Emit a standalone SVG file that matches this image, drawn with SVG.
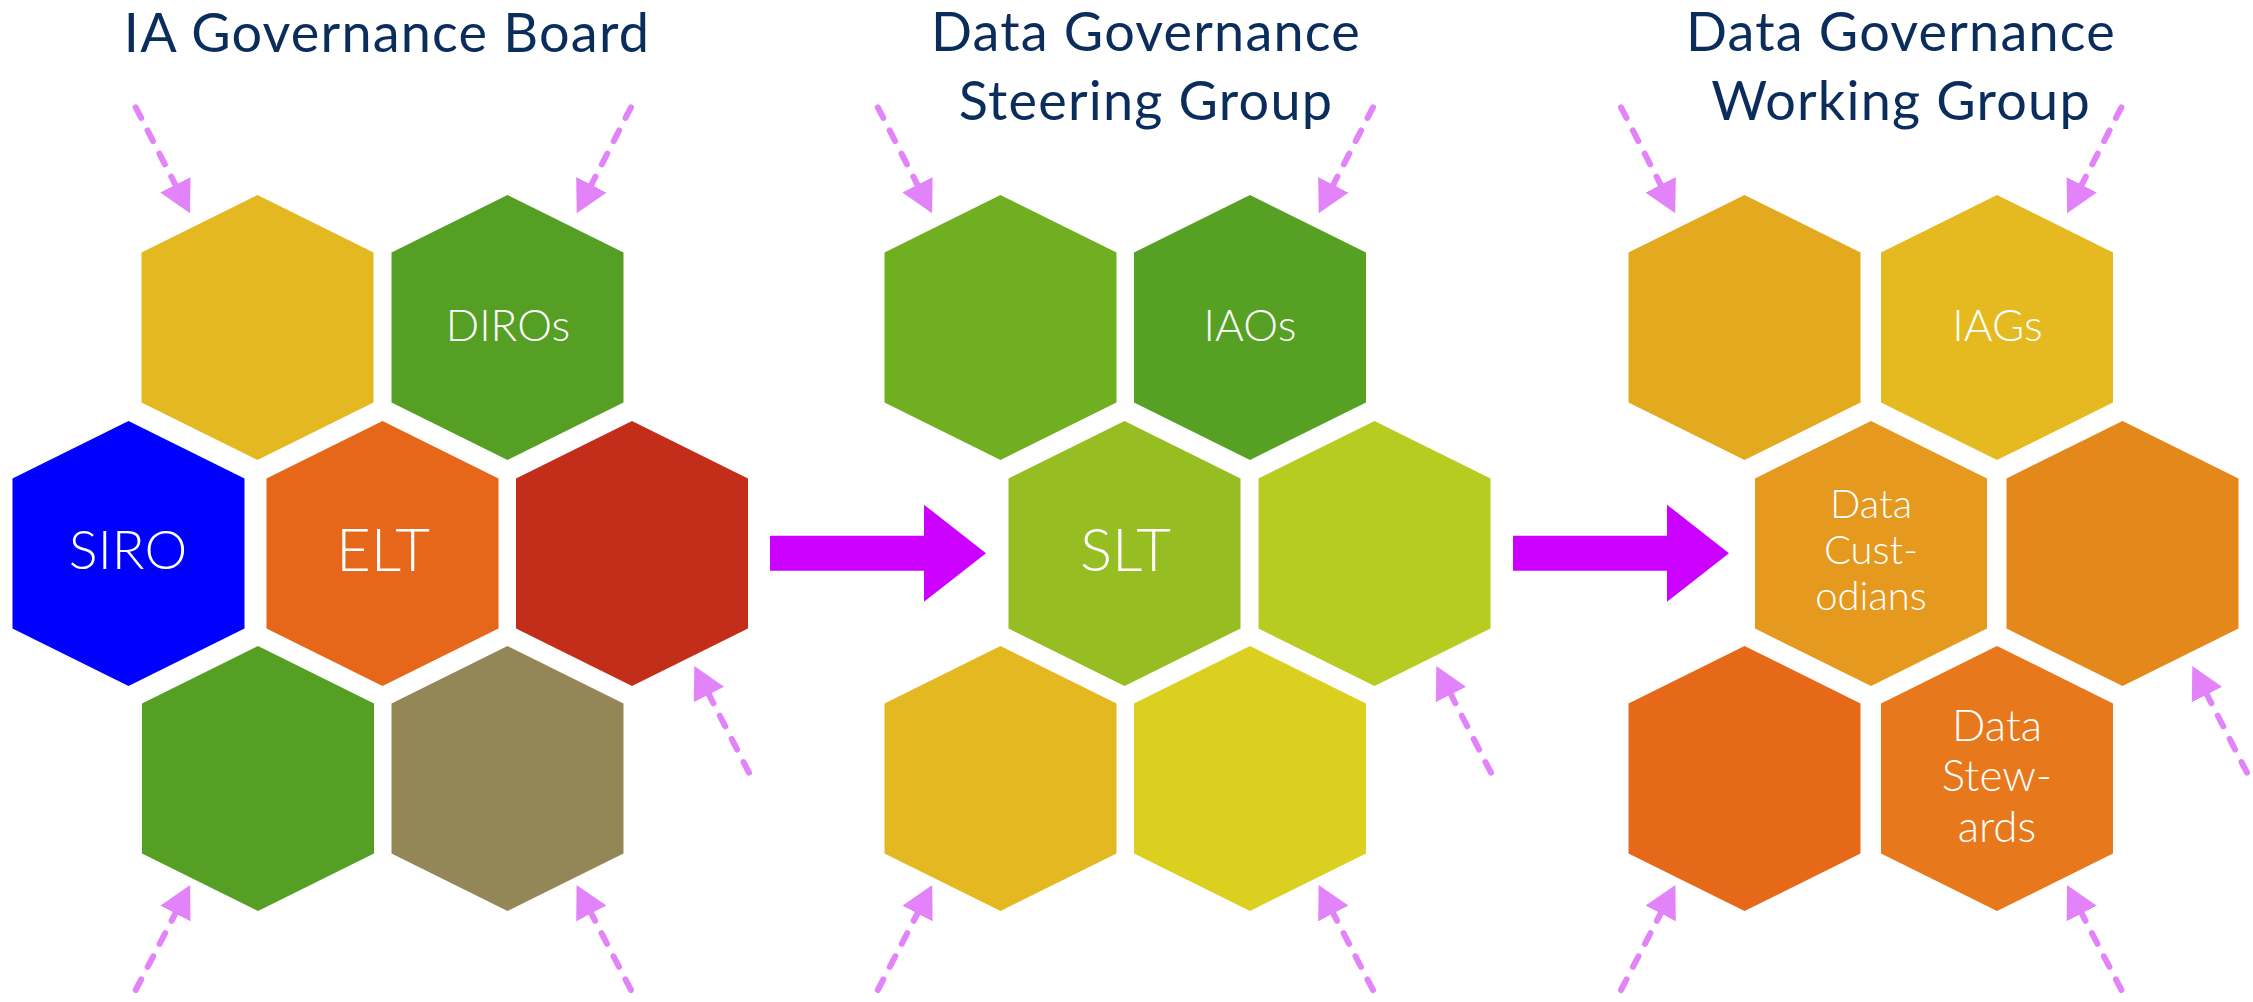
<svg xmlns="http://www.w3.org/2000/svg" xmlns:xlink="http://www.w3.org/1999/xlink" width="2253" height="1002" viewBox="0 0 2253 1002">
<style>
.title{font-family:Lato,"Liberation Sans",sans-serif;font-size:54px;letter-spacing:1.2px;fill:#0b2d5c;text-anchor:middle}
.lbl{font-family:Lato,"Liberation Sans",sans-serif;font-weight:300;fill:#ffffff;text-anchor:middle}
.dash{fill:none;stroke:#e283fa;stroke-width:6;stroke-linecap:round;stroke-dasharray:12 14}
.big{fill:#cc00ff}
</style>
<defs>
<path id="hex" d="M0,-132.5 L116,-75 L116,75 L0,132.5 L-116,75 L-116,-75Z"/>
<path id="bigarrow" d="M0,0 L154,0 L154,-31 L216,17.6 L154,66 L154,35 L0,35Z"/>
<marker id="head" markerUnits="userSpaceOnUse" viewBox="0 0 32 34" markerWidth="32" markerHeight="34" refX="2" refY="17" orient="auto">
<path d="M0,0 L32,17 L0,34Z" fill="#e283fa"/>
</marker>
</defs>
<rect width="2253" height="1002" fill="#ffffff"/>

<g id="titles">
<text class="title" x="387" y="52">IA Governance Board</text>
<text class="title" x="1146" y="51">Data Governance</text>
<text class="title" x="1146" y="120">Steering Group</text>
<text class="title" x="1901" y="51">Data Governance</text>
<text class="title" x="1901" y="120">Working Group</text>
</g>

<g id="panel1">
<g id="p1-yellow"><use xlink:href="#hex" x="257.5" y="327.5" fill="#e4b820"/></g>
<g id="p1-diros"><use xlink:href="#hex" x="507.5" y="327.5" fill="#55a024"/><text class="lbl" x="508" y="341" font-size="44">DIROs</text></g>
<g id="p1-siro"><use xlink:href="#hex" x="128.5" y="553.5" fill="#0000ff"/><text class="lbl" x="128" y="569" font-size="54">SIRO</text></g>
<g id="p1-elt"><use xlink:href="#hex" x="382.5" y="553.5" fill="#e6661a"/><text class="lbl" x="383" y="571" font-size="60">ELT</text></g>
<g id="p1-red"><use xlink:href="#hex" x="632" y="553.5" fill="#c32e1b"/></g>
<g id="p1-green"><use xlink:href="#hex" x="258" y="778.5" fill="#55a024"/></g>
<g id="p1-olive"><use xlink:href="#hex" x="507.5" y="778.5" fill="#938757"/></g>
</g>

<g id="panel2">
<g id="p2-green"><use xlink:href="#hex" x="1000.5" y="327.5" fill="#70ae22"/></g>
<g id="p2-iaos"><use xlink:href="#hex" x="1250" y="327.5" fill="#56a024"/><text class="lbl" x="1250" y="341" font-size="44">IAOs</text></g>
<g id="p2-slt"><use xlink:href="#hex" x="1124.5" y="553.5" fill="#96bd22"/><text class="lbl" x="1125.5" y="571" font-size="60">SLT</text></g>
<g id="p2-lime"><use xlink:href="#hex" x="1374.5" y="553.5" fill="#b8cb20"/></g>
<g id="p2-gold"><use xlink:href="#hex" x="1000.5" y="778.5" fill="#e4b820"/></g>
<g id="p2-yellow"><use xlink:href="#hex" x="1250" y="778.5" fill="#dbcf1f"/></g>
</g>

<g id="panel3">
<g id="p3-amber"><use xlink:href="#hex" x="1744.5" y="327.5" fill="#e4aa1f"/></g>
<g id="p3-iags"><use xlink:href="#hex" x="1997" y="327.5" fill="#e4ba20"/><text class="lbl" x="1997.5" y="341" font-size="44">IAGs</text></g>
<g id="p3-custodians"><use xlink:href="#hex" x="1871" y="553.5" fill="#e5991f"/><text class="lbl" x="1871" font-size="40"><tspan x="1871" y="518">Data</tspan><tspan x="1871" y="564">Cust-</tspan><tspan x="1871" y="610">odians</tspan></text></g>
<g id="p3-orange"><use xlink:href="#hex" x="2122.5" y="553.5" fill="#e5881c"/></g>
<g id="p3-darkorange"><use xlink:href="#hex" x="1744.5" y="778.5" fill="#e6691a"/></g>
<g id="p3-stewards"><use xlink:href="#hex" x="1997" y="778.5" fill="#e7781c"/><text class="lbl" x="1997" font-size="44"><tspan x="1997" y="741">Data</tspan><tspan x="1997" y="791">Stew-</tspan><tspan x="1997" y="842">ards</tspan></text></g>
</g>

<g id="connectors">
<use xlink:href="#bigarrow" class="big" x="770" y="535.7"/>
<use xlink:href="#bigarrow" class="big" x="1513" y="535.7"/>

<line class="dash" x1="135.7" y1="107.3" x2="176.3" y2="186.6" marker-end="url(#head)"/>
<line class="dash" x1="631" y1="107.3" x2="590.4" y2="186.6" marker-end="url(#head)"/>
<line class="dash" x1="749" y1="772.7" x2="708" y2="692.7" marker-end="url(#head)"/>
<line class="dash" x1="135.7" y1="990" x2="176.3" y2="911.7" marker-end="url(#head)"/>
<line class="dash" x1="631" y1="990" x2="590.4" y2="911.7" marker-end="url(#head)"/>

<line class="dash" x1="877.8" y1="107.3" x2="918.4" y2="186.6" marker-end="url(#head)"/>
<line class="dash" x1="1373" y1="107.3" x2="1332.4" y2="186.6" marker-end="url(#head)"/>
<line class="dash" x1="1491" y1="772.7" x2="1450" y2="692.7" marker-end="url(#head)"/>
<line class="dash" x1="877.8" y1="990" x2="918.4" y2="911.7" marker-end="url(#head)"/>
<line class="dash" x1="1373" y1="990" x2="1332.4" y2="911.7" marker-end="url(#head)"/>

<line class="dash" x1="1621" y1="107.3" x2="1661.6" y2="186.6" marker-end="url(#head)"/>
<line class="dash" x1="2121.4" y1="107.3" x2="2080.8" y2="186.6" marker-end="url(#head)"/>
<line class="dash" x1="2247" y1="772.7" x2="2206" y2="692.7" marker-end="url(#head)"/>
<line class="dash" x1="1621" y1="990" x2="1661.6" y2="911.7" marker-end="url(#head)"/>
<line class="dash" x1="2121.4" y1="990" x2="2080.8" y2="911.7" marker-end="url(#head)"/>
</g>
</svg>
